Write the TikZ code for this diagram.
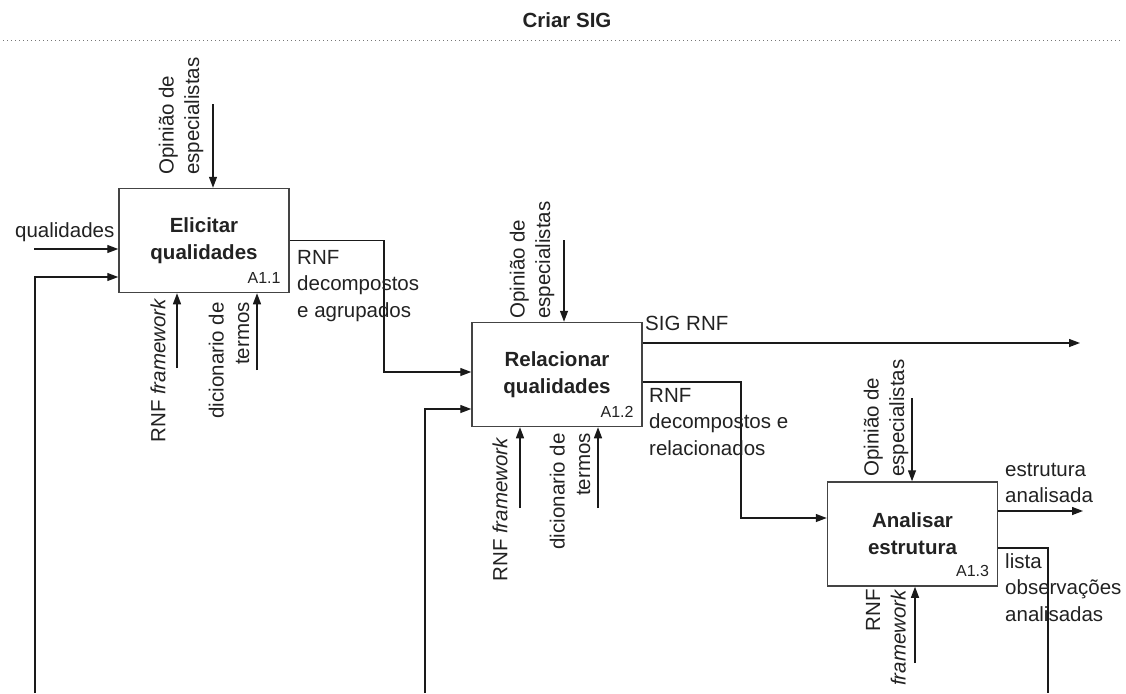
\documentclass[tikz,border=0pt]{standalone}
\usepackage{fontspec}
\setmainfont{Liberation Sans}
\usetikzlibrary{arrows.meta}
\definecolor{txt}{HTML}{222222}
\definecolor{lnc}{HTML}{1A1A1A}
\definecolor{boxc}{HTML}{444444}
\definecolor{dotc}{HTML}{777777}
\begin{document}
\begin{tikzpicture}[x=1pt,y=-1pt,
  box/.style={draw=boxc, line width=1.5pt, minimum width=170pt, minimum height=104pt,
    inner sep=0pt, align=center, text=txt, font=\fontsize{20.5}{27}\selectfont\bfseries},
  num/.style={inner sep=0pt, text=txt, font=\fontsize{16}{19}\selectfont},
  lbl/.style={inner sep=0pt, text=txt, font=\fontsize{20.5}{26.5}\selectfont},
  rlbl/.style={inner sep=0pt, text=txt, rotate=90, font=\fontsize{20.5}{25.5}\selectfont},
  ttl/.style={inner sep=0pt, text=txt, font=\fontsize{20.5}{24}\selectfont\bfseries},
  ln/.style={draw=lnc, line width=1.3pt},
  arr/.style={ln, -{Triangle[length=11pt,width=8pt]}},
  dotline/.style={draw=dotc, line width=1pt, dash pattern=on 1pt off 3pt}]
\useasboundingbox (0,0) rectangle (1126,693);
\fill[white] (0,0) rectangle (1126,693);

% title and dotted rule
\node[ttl, anchor=base] (title) at (567,28) {Criar SIG};
\coordinate (dl) at (3,41);
\coordinate (dr) at (1123,41);
\draw[dotline] (dl) -- (dr);

% activity boxes
\node[box] (b1) at (204,240.5) {Elicitar\\qualidades};
\node[box] (b2) at (557,374.5) {Relacionar\\qualidades};
\node[box] (b3) at (912.5,534) {Analisar\\estrutura};
\node[num, anchor=base east] (n1) at ([xshift=-9pt,yshift=10pt]b1.south east) {A1.1};
\node[num, anchor=base east] (n2) at ([xshift=-9pt,yshift=10pt]b2.south east) {A1.2};
\node[num, anchor=base east] (n3) at ([xshift=-9pt,yshift=10pt]b3.south east) {A1.3};

% ---- box 1 ----
\coordinate (qs) at (34,249);
\draw[arr] (qs) -- (qs -| b1.west);
\node[lbl, anchor=base west] (lq) at (15,237) {qualidades};

\coordinate (fb1) at (35,693);
\draw[arr] (fb1) |- ([yshift=-36.5pt]b1.west);

\coordinate (o1) at (213,104);
\draw[arr] (o1) -- (o1 |- b1.north);
\node[rlbl, align=left, anchor=west] (lo1) at (181,175) {Opinião de\\especialistas};

\coordinate (r1) at (177,368);
\draw[arr] (r1) -- (r1 |- b1.south);
\node[rlbl, anchor=east] (lr1) at (158,298) {RNF \textit{framework}};

\coordinate (d1) at (257,370);
\draw[arr] (d1) -- (d1 |- b1.south);
\node[rlbl, align=right, anchor=east] (ld1) at (229,302) {dicionario de\\termos};

\coordinate (k1) at (384,372);
\draw[arr] (b1.east) -| (k1) -- (k1 -| b2.west);
\node[lbl, align=left, anchor=north west] (lout1) at (297,250) {RNF\\decompostos\\e agrupados};

% ---- box 2 ----
\coordinate (fb2) at (425,693);
\draw[arr] (fb2) |- ([yshift=-34.5pt]b2.west);

\coordinate (o2) at (564,240);
\draw[arr] (o2) -- (o2 |- b2.north);
\node[rlbl, align=left, anchor=west] (lo2) at (532,319) {Opinião de\\especialistas};

\coordinate (r2) at (520,508);
\draw[arr] (r2) -- (r2 |- b2.south);
\node[rlbl, anchor=east] (lr2) at (500,437) {RNF \textit{framework}};

\coordinate (d2) at (598,508);
\draw[arr] (d2) -- (d2 |- b2.south);
\node[rlbl, align=right, anchor=east] (ld2) at (570,433) {dicionario de\\termos};

\coordinate (sg) at (1080,343);
\draw[arr] (sg -| b2.east) -- (sg);
\node[lbl, anchor=base west] (lsig) at (645,330) {SIG RNF};

\coordinate (k2) at (741,518);
\draw[arr] ([yshift=-7.5pt]b2.east) -| (k2) -- (k2 -| b3.west);
\node[lbl, align=left, anchor=north west] (lout2) at (649,388) {RNF\\decompostos e\\relacionados};

% ---- box 3 ----
\coordinate (o3) at (912,398);
\draw[arr] (o3) -- (o3 |- b3.north);
\node[rlbl, align=left, anchor=west] (lo3) at (886,477) {Opinião de\\especialistas};

\coordinate (r3) at (915,663);
\draw[arr] (r3) -- (r3 |- b3.south);
\node[rlbl, align=right, anchor=east] (lr3) at (886,589) {RNF\\\textit{framework}};

\coordinate (es) at (1083,511);
\draw[arr] (es -| b3.east) -- (es);
\node[lbl, align=left, anchor=north west] (lest) at (1005,463) {estrutura\\analisada};

\coordinate (le) at (1048,693);
\draw[ln] ([yshift=-14pt]b3.east) -| (le);
\node[lbl, align=left, anchor=north west] (llis) at (1005,553) {lista\\observações\\analisadas};
\end{tikzpicture}
\end{document}
